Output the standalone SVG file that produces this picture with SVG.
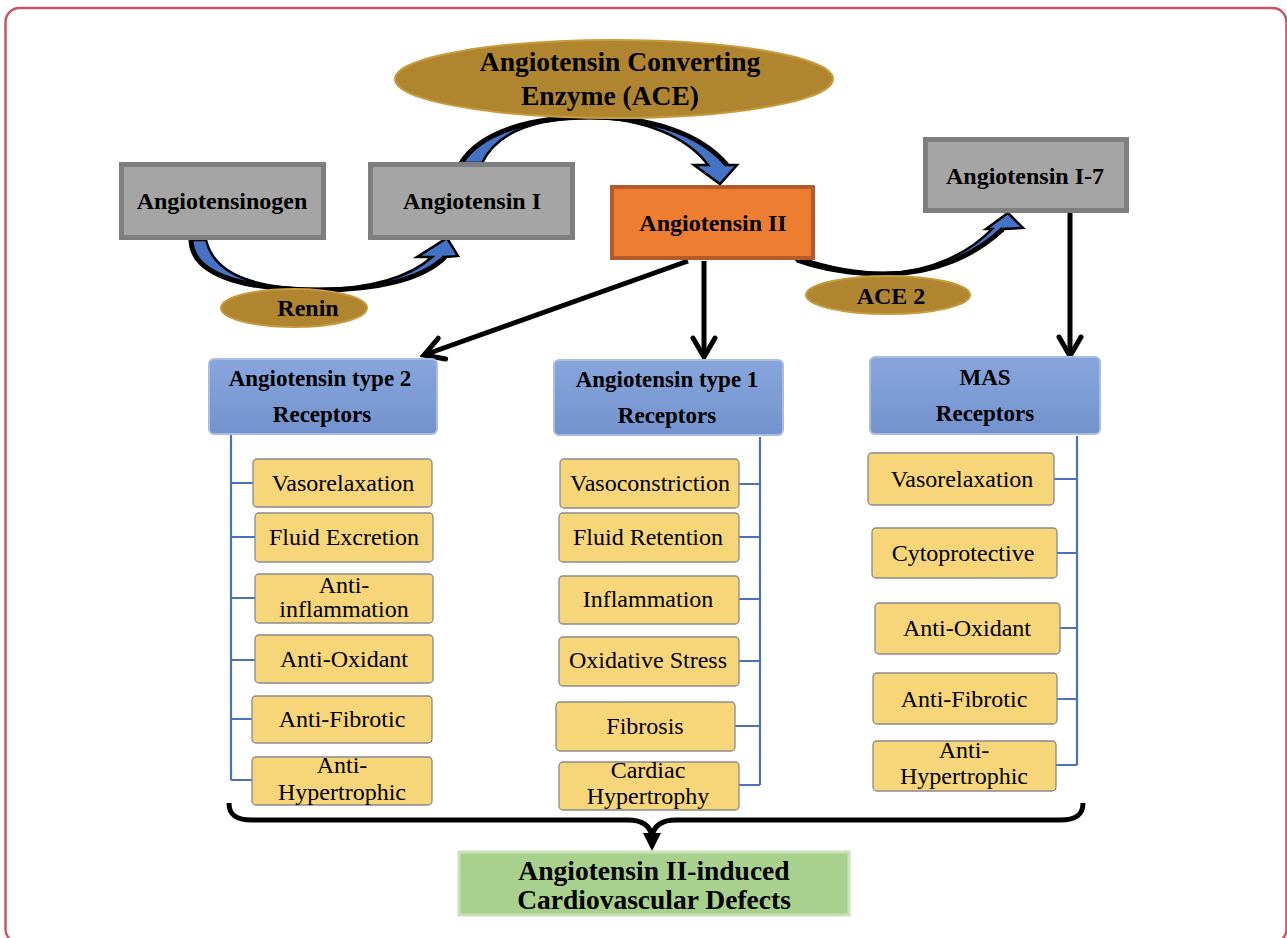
<svg xmlns="http://www.w3.org/2000/svg" width="1287" height="938" viewBox="0 0 1287 938">
<defs>
<style>
.bt{font-family:"Liberation Serif","Times New Roman",serif;font-weight:bold;fill:#000;text-anchor:middle}
.rt{font-family:"Liberation Serif","Times New Roman",serif;font-size:24px;fill:#000;text-anchor:middle}
.gray{fill:#a5a5a5;stroke:#7f7f7f;stroke-width:5}
.enz{fill:#b08530;stroke:#c79c3f;stroke-width:2}
.rec{fill:url(#recg);stroke:#a9bde4;stroke-width:2}
.yel{fill:#f7d67a;stroke:#8a8a8a;stroke-width:1.3}
.tree{fill:none;stroke:#4a72c0;stroke-width:2.2}
.blk{fill:none;stroke:#000;stroke-width:5}
.carrow{fill:#4472c4;stroke:#000;stroke-width:2.5;stroke-linejoin:miter}
</style>
<linearGradient id="recg" x1="0" y1="0" x2="0" y2="1">
<stop offset="0" stop-color="#88a5dc"/>
<stop offset="1" stop-color="#7392cd"/>
</linearGradient>
<marker id="chev" viewBox="-24 -14 28 28" markerWidth="28" markerHeight="28" refX="0" refY="0" orient="auto" markerUnits="userSpaceOnUse">
<path d="M-19,-11 L0,0 L-19,11" fill="none" stroke="#000" stroke-width="5" stroke-linecap="round"/>
</marker>
</defs>
<rect x="5.5" y="8" width="1281" height="935" rx="14" fill="#fff" stroke="#c9575d" stroke-width="2.5"/>

<g id="connectors">
<path class="carrow" d="M191,240 C192,280 258,290 320,290 C375,290 422,280 445,257 L458,256 L447,238 L417,257 L432,257 C410,277 370,289 320,289 C262,289 215,278 206,240 Z"/>
<path class="blk" d="M191,240 C192,280 258,290 320,290 C375,290 422,280 445,257"/>
<path class="carrow" d="M461,163 C482,130 535,117 590,117 C650,117 700,133 727,165 L737,165 L720,184 L694,165 L708,165 C688,138 645,118 590,118 C540,118 498,130 482,163 Z"/>
<path class="blk" d="M461,163 C482,130 535,117 590,117 C650,117 700,133 727,165"/>
<path class="carrow" d="M797,260 C830,272 860,274 885,274 C935,274 975,255 1003,229 L1023,228 L1008,213 L986,229 L992,229 C970,252 930,273 885,273 C860,273 830,268 800,258 Z"/>
<path class="blk" d="M797,260 C830,272 860,274 885,274 C935,274 975,255 1003,229"/>
<line class="blk" x1="688" y1="261" x2="424" y2="355" marker-end="url(#chev)"/>
<line class="blk" x1="704" y1="261" x2="704" y2="357" marker-end="url(#chev)"/>
<line class="blk" x1="1070" y1="212" x2="1070" y2="356" marker-end="url(#chev)"/>
<path class="tree" d="M231,435 V780 M231,483 H253 M231,537 H255 M231,598 H255 M231,660 H255 M231,719 H252 M231,780 H252"/>
<path class="tree" d="M760,437 V785 M760,484 H739 M760,537 H739 M760,599 H739 M760,661 H739 M760,726 H735 M760,785 H739"/>
<path class="tree" d="M1077,436 V765 M1077,479 H1054 M1077,553 H1057 M1077,628 H1060 M1077,699 H1057 M1077,765 H1056"/>
<path class="blk" d="M229,803 C229,815 236,820 252,820 H628 C643,820 650,826 652,836 C654,826 661,820 676,820 H1060 C1076,820 1083,815 1083,803"/>
<polygon points="643,833 661,833 652,851" fill="#000"/>
</g>

<g id="ace">
<ellipse class="enz" cx="614" cy="79" rx="219" ry="39"/>
<text class="bt" font-size="27.5" x="620" y="71">Angiotensin Converting</text>
<text class="bt" font-size="27.5" x="610" y="105">Enzyme (ACE)</text>
</g>
<g id="angiotensinogen">
<rect class="gray" x="121.5" y="164.5" width="202" height="73"/>
<text class="bt" font-size="24" x="222" y="209">Angiotensinogen</text>
</g>
<g id="angiotensin1">
<rect class="gray" x="370.5" y="164.5" width="202" height="73"/>
<text class="bt" font-size="24" x="472" y="209">Angiotensin I</text>
</g>
<g id="angiotensin2">
<rect x="612" y="187" width="201" height="71" fill="#ed7d31" stroke="#b55a2a" stroke-width="4"/>
<text class="bt" font-size="24" x="713" y="231">Angiotensin II</text>
</g>
<g id="angiotensin17">
<rect class="gray" x="925.5" y="139.5" width="201" height="71"/>
<text class="bt" font-size="24" x="1025" y="184">Angiotensin I-7</text>
</g>
<g id="renin">
<ellipse class="enz" cx="294" cy="308" rx="73" ry="19"/>
<text class="bt" font-size="24" x="308" y="316">Renin</text>
</g>
<g id="ace2">
<ellipse class="enz" cx="888" cy="295" rx="82" ry="19"/>
<text class="bt" font-size="24" x="891" y="304">ACE 2</text>
</g>

<g id="at2">
<rect class="rec" x="209" y="359" width="228" height="75" rx="5"/>
<text class="bt" font-size="23" x="320" y="386">Angiotensin type 2</text>
<text class="bt" font-size="23" x="322" y="422">Receptors</text>
</g>
<g id="at1">
<rect class="rec" x="554" y="360" width="229" height="75" rx="5"/>
<text class="bt" font-size="23" x="667" y="387">Angiotensin type 1</text>
<text class="bt" font-size="23" x="667" y="423">Receptors</text>
</g>
<g id="mas">
<rect class="rec" x="870" y="357" width="230" height="77" rx="5"/>
<text class="bt" font-size="23" x="985" y="385">MAS</text>
<text class="bt" font-size="23" x="985" y="421">Receptors</text>
</g>

<g id="at2-vasorelaxation"><rect class="yel" x="253" y="459" width="179" height="48" rx="4"/><text class="rt" x="343" y="491">Vasorelaxation</text></g>
<g id="at2-fluid"><rect class="yel" x="255" y="513" width="178" height="49" rx="4"/><text class="rt" x="344" y="545">Fluid Excretion</text></g>
<g id="at2-antiinfl"><rect class="yel" x="255" y="574" width="178" height="49" rx="4"/><text class="rt" x="344" y="593">Anti-</text><text class="rt" x="344" y="617">inflammation</text></g>
<g id="at2-antiox"><rect class="yel" x="255" y="635" width="178" height="48" rx="4"/><text class="rt" x="344" y="667">Anti-Oxidant</text></g>
<g id="at2-antifib"><rect class="yel" x="252" y="696" width="180" height="47" rx="4"/><text class="rt" x="342" y="727">Anti-Fibrotic</text></g>
<g id="at2-antihyp"><rect class="yel" x="252" y="757" width="180" height="48" rx="4"/><text class="rt" x="342" y="773">Anti-</text><text class="rt" x="342" y="800">Hypertrophic</text></g>

<g id="at1-vasoc"><rect class="yel" x="560" y="459" width="179" height="49" rx="4"/><text class="rt" x="650" y="491">Vasoconstriction</text></g>
<g id="at1-fluid"><rect class="yel" x="559" y="513" width="180" height="49" rx="4"/><text class="rt" x="648" y="545">Fluid Retention</text></g>
<g id="at1-infl"><rect class="yel" x="559" y="576" width="180" height="48" rx="4"/><text class="rt" x="648" y="607">Inflammation</text></g>
<g id="at1-ox"><rect class="yel" x="559" y="637" width="180" height="49" rx="4"/><text class="rt" x="648" y="668">Oxidative Stress</text></g>
<g id="at1-fib"><rect class="yel" x="556" y="702" width="179" height="49" rx="4"/><text class="rt" x="645" y="734">Fibrosis</text></g>
<g id="at1-hyp"><rect class="yel" x="559" y="762" width="180" height="48" rx="4"/><text class="rt" x="648" y="778">Cardiac</text><text class="rt" x="648" y="804">Hypertrophy</text></g>

<g id="mas-vasor"><rect class="yel" x="868" y="453" width="186" height="52" rx="4"/><text class="rt" x="962" y="487">Vasorelaxation</text></g>
<g id="mas-cyto"><rect class="yel" x="872" y="528" width="185" height="50" rx="4"/><text class="rt" x="963" y="561">Cytoprotective</text></g>
<g id="mas-antiox"><rect class="yel" x="875" y="603" width="185" height="51" rx="4"/><text class="rt" x="967" y="636">Anti-Oxidant</text></g>
<g id="mas-antifib"><rect class="yel" x="873" y="673" width="184" height="51" rx="4"/><text class="rt" x="964" y="707">Anti-Fibrotic</text></g>
<g id="mas-antihyp"><rect class="yel" x="873" y="741" width="183" height="50" rx="4"/><text class="rt" x="964" y="758">Anti-</text><text class="rt" x="964" y="784">Hypertrophic</text></g>

<g id="outcome">
<rect x="459" y="852" width="390" height="63" fill="#a9d18e" stroke="#c9e2b8" stroke-width="3"/>
<text class="bt" font-size="27.5" x="654" y="880">Angiotensin II-induced</text>
<text class="bt" font-size="27.5" x="654" y="909">Cardiovascular Defects</text>
</g>
</svg>
